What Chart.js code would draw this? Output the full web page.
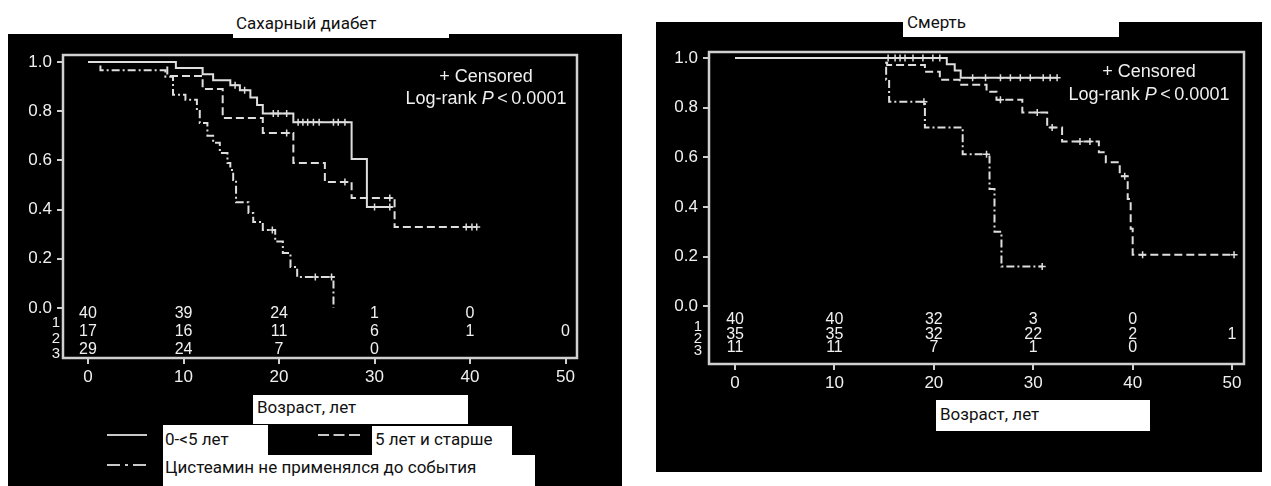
<!DOCTYPE html>
<html>
<head>
<meta charset="utf-8">
<script src="https://cdn.jsdelivr.net/npm/chart.js@4.4.1/dist/chart.umd.min.js"></script>
<style>
body { margin: 0; background: #fff; width: 1271px; height: 486px; overflow: hidden; position: relative; font-family: Roboto, "Noto Sans", sans-serif; }
.panel { position: absolute; background: #000; }
canvas { position: absolute; }
.box { position: absolute; background: #fff; color: #111; font-size: 17px; line-height: 20px; box-sizing: border-box; white-space: nowrap; }
svg { position: absolute; left: 0; top: 0; }
</style>
</head>
<body>
<div class="panel" style="left:8px;top:34px;width:614px;height:452px"></div>
<div class="panel" style="left:656px;top:22px;width:606px;height:450px"></div>
<canvas id="dm" width="614" height="452" style="left:8px;top:34px"></canvas>
<canvas id="death" width="606" height="450" style="left:656px;top:22px"></canvas>

<div class="box" style="left:233px;top:0;width:216px;height:38px;padding:13px 0 0 3px">Сахарный диабет</div>
<div class="box" style="left:903px;top:0;width:216px;height:37px;padding:12px 0 0 4px">Смерть</div>
<div class="box" style="left:253px;top:395px;width:215px;height:29px;padding:2px 0 0 4px">Возраст, лет</div>
<div class="box" style="left:936px;top:400px;width:214px;height:31px;padding:4px 0 0 4px">Возраст, лет</div>
<div class="box" style="left:163px;top:425px;width:105px;height:30px;padding:4px 0 0 2px">0-&lt;5 лет</div>
<div class="box" style="left:372px;top:426px;width:140px;height:29px;padding:3px 0 0 3px">5 лет и старше</div>
<div class="box" style="left:163px;top:455px;width:372px;height:31px;padding:2px 0 0 2px">Цистеамин не применялся до события</div>

<svg width="1271" height="486">
  <g stroke="#c8c8c8" stroke-width="2.2" fill="none">
    <line x1="107" y1="435" x2="147" y2="435"/>
    <line x1="318" y1="435" x2="361" y2="435" stroke-dasharray="11,4.5"/>
    <line x1="107" y1="465" x2="147" y2="465" stroke-dasharray="13,5,3,5"/>
  </g>
</svg>

<script>
// ages (years) and survival values
const xTicks = [0, 10, 20, 30, 40, 50];
const yTicks = [0, 0.2, 0.4, 0.6, 0.8, 1.0];
const riskTimes = [0, 10, 20, 30, 40, 50];

// Сахарный диабет
const dmYoungT = [0, 9.2, 12.0, 13.1, 14.9, 15.9, 17.0, 17.7, 18.3, 21.5, 27.6, 29.2, 31.9];
const dmYoungS = [1.0, 0.975, 0.95, 0.925, 0.905, 0.885, 0.855, 0.825, 0.79, 0.755, 0.605, 0.41, 0.41];
const dmYoungCensT = [15.4, 16.4, 19.4, 19.9, 20.8, 22.0, 22.5, 23.0, 23.6, 24.2, 25.7, 26.2, 26.9, 30.0, 31.6];
const dmYoungCensS = [0.905, 0.885, 0.79, 0.79, 0.79, 0.755, 0.755, 0.755, 0.755, 0.755, 0.755, 0.755, 0.755, 0.41, 0.41];

const dmOlderT = [0, 8.3, 12.0, 14.1, 18.3, 21.5, 24.8, 27.6, 32.1, 40.7];
const dmOlderS = [1.0, 0.943, 0.89, 0.772, 0.711, 0.589, 0.512, 0.447, 0.329, 0.329];
const dmOlderCensT = [20.8, 26.9, 31.6, 39.6, 40.2, 40.7];
const dmOlderCensS = [0.711, 0.512, 0.447, 0.329, 0.329, 0.329];

const dmNoneT = [0, 1.3, 8.1, 8.9, 10.2, 11.4, 11.7, 12.5, 13.1, 13.8, 14.6, 14.9, 15.2, 15.5, 16.8, 17.3, 18.3, 19.6, 20.4, 21.2, 21.9, 25.7];
const dmNoneS = [1.0, 0.966, 0.94, 0.866, 0.846, 0.80, 0.752, 0.70, 0.671, 0.63, 0.589, 0.561, 0.52, 0.43, 0.386, 0.35, 0.317, 0.27, 0.224, 0.167, 0.126, 0.0];
const dmNoneCensT = [19.3, 23.8, 25.5];
const dmNoneCensS = [0.317, 0.126, 0.126];

const dmRisk1 = [40, 39, 24, 1, 0];
const dmRisk2 = [17, 16, 11, 6, 1, 0];
const dmRisk3 = [29, 24, 7, 0];

// Смерть
const deathYoungT = [0, 21.3, 22.1, 22.7, 32.4];
const deathYoungS = [1.0, 0.975, 0.95, 0.92, 0.92];
const deathYoungCensT = [15.4, 16.1, 16.6, 17.1, 17.9, 18.9, 19.9, 20.6, 23.9, 25.2, 26.7, 27.7, 28.7, 29.7, 31.0, 31.7, 32.4];
const deathYoungCensS = [1, 1, 1, 1, 1, 1, 1, 1, 0.92, 0.92, 0.92, 0.92, 0.92, 0.92, 0.92, 0.92, 0.92];

const deathOlderT = [0, 15.3, 19.1, 20.6, 22.6, 25.3, 26.3, 28.9, 31.4, 32.9, 36.6, 37.3, 38.7, 39.5, 39.8, 40.0, 50.2];
const deathOlderS = [1.0, 0.972, 0.944, 0.912, 0.892, 0.864, 0.832, 0.78, 0.72, 0.664, 0.62, 0.58, 0.524, 0.432, 0.312, 0.208, 0.208];
const deathOlderCensT = [26.7, 30.4, 31.9, 34.7, 35.7, 39.2, 41.0, 50.2];
const deathOlderCensS = [0.832, 0.78, 0.72, 0.664, 0.664, 0.524, 0.208, 0.208];

const deathNoneT = [0, 15.2, 15.5, 19.1, 22.9, 25.6, 26.1, 26.8, 30.9];
const deathNoneS = [1.0, 0.912, 0.824, 0.72, 0.612, 0.472, 0.30, 0.16, 0.16];
const deathNoneCensT = [19.0, 25.3, 30.9];
const deathNoneCensS = [0.824, 0.612, 0.16];

const deathRisk1 = [40, 40, 32, 3, 0];
const deathRisk2 = [35, 35, 32, 22, 2, 1];
const deathRisk3 = [11, 11, 7, 1, 0];

const LINE = '#dedede';
const FONT = '"Liberation Sans", Arial, sans-serif';

function pts(t, s) {
    return t.map((v, i) => ({ x: v, y: s[i] }));
}

function curve(t, s, dash) {
    return { data: pts(t, s), stepped: true, borderColor: LINE, borderWidth: 2, borderDash: dash, pointRadius: 0, fill: false };
}

function marks(t, s) {
    return { data: pts(t, s), showLine: false, pointStyle: 'cross', pointRadius: 3.5, borderColor: LINE, borderWidth: 1.5, backgroundColor: LINE };
}

const extras = {
    id: 'kmExtras',
    afterDraw(chart, args, o) {
        const ctx = chart.ctx, a = chart.chartArea;
        const x = chart.scales.x, y = chart.scales.y;
        ctx.save();
        // frame
        ctx.strokeStyle = '#d0d0d0';
        ctx.lineWidth = 2.5;
        ctx.strokeRect(a.left, a.top, a.right - a.left, a.bottom - a.top);

        // numbers at risk
        const y0 = y.getPixelForValue(0);
        ctx.fillStyle = '#f0f0f0';
        ctx.textAlign = 'center';
        ctx.textBaseline = 'middle';
        ctx.font = '16px ' + FONT;
        o.risk.forEach((row, r) => {
            row.forEach((n, i) => ctx.fillText(String(n), x.getPixelForValue(riskTimes[i]), y0 + o.riskDy[r]));
        });
        ctx.font = '15px ' + FONT;
        ['1', '2', '3'].forEach((lab, r) => ctx.fillText(lab, a.left + o.labDx, y0 + o.labDy[r]));

        // annotation
        const cx = a.right - o.noteDx;
        ctx.font = '18px ' + FONT;
        ctx.fillText('+ Censored', cx, a.top + o.noteDy[0]);
        const parts = [['Log-rank ', '18px '], ['P', 'italic 18px '], ['\u2009<\u20090.0001', '18px ']];
        let w = 0;
        parts.forEach(p => { ctx.font = p[1] + FONT; w += ctx.measureText(p[0]).width; });
        let px = cx - w / 2;
        ctx.textAlign = 'left';
        parts.forEach(p => {
            ctx.font = p[1] + FONT;
            ctx.fillText(p[0], px, a.top + o.noteDy[1]);
            px += ctx.measureText(p[0]).width;
        });
        ctx.restore();
    }
};

function axis(extra) {
    return Object.assign({
        type: 'linear',
        grid: { drawOnChartArea: false, drawTicks: true, tickLength: 6, color: '#cfcfcf', lineWidth: 2 },
        border: { display: false },
    }, extra);
}

function kmChart(id, series, o) {
    return new Chart(document.getElementById(id), {
        type: 'line',
        data: {
            datasets: [
                curve(series[0], series[1], []),
                curve(series[4], series[5], [8, 4]),
                curve(series[8], series[9], [8, 3, 2, 3]),
                marks(series[2], series[3]),
                marks(series[6], series[7]),
                marks(series[10], series[11])
            ]
        },
        options: {
            responsive: false,
            animation: false,
            devicePixelRatio: 1,
            layout: { padding: o.pad },
            plugins: { legend: { display: false }, tooltip: { enabled: false }, kmExtras: o },
            scales: {
                x: axis({
                    min: o.xMin, max: o.xMax,
                    afterBuildTicks: s => { s.ticks = xTicks.map(v => ({ value: v })); },
                    afterFit: s => { s.height = 30; },
                    ticks: { color: '#f0f0f0', font: { family: FONT, size: 17 }, padding: 3, maxRotation: 0, autoSkip: false }
                }),
                y: axis({
                    min: o.yMin, max: o.yMax,
                    afterBuildTicks: s => { s.ticks = yTicks.map(v => ({ value: v })); },
                    afterFit: s => { s.width = o.yWidth; },
                    ticks: { color: '#f0f0f0', font: { family: FONT, size: 17 }, padding: 5, autoSkip: false, callback: v => v.toFixed(1) }
                })
            }
        },
        plugins: [extras]
    });
}

kmChart('dm', [dmYoungT, dmYoungS, dmYoungCensT, dmYoungCensS, dmOlderT, dmOlderS, dmOlderCensT, dmOlderCensS, dmNoneT, dmNoneS, dmNoneCensT, dmNoneCensS], {
    pad: { left: 0, top: 21, right: 45, bottom: 98 },
    yWidth: 55,
    xMin: -2.62, xMax: 51.2, yMin: -0.203, yMax: 1.028,
    risk: [dmRisk1, dmRisk2, dmRisk3],
    riskDy: [6, 24, 42], labDx: -7, labDy: [15, 31, 46],
    noteDx: 91, noteDy: [22, 44]
});

kmChart('death', [deathYoungT, deathYoungS, deathYoungCensT, deathYoungCensS, deathOlderT, deathOlderS, deathOlderCensT, deathOlderCensS, deathNoneT, deathNoneS, deathNoneCensT, deathNoneCensS], {
    pad: { left: 0, top: 30, right: 18, bottom: 78 },
    yWidth: 53,
    xMin: -2.62, xMax: 51.2, yMin: -0.232, yMax: 1.024,
    risk: [deathRisk1, deathRisk2, deathRisk3],
    riskDy: [13, 28, 41], labDx: -11, labDy: [20, 32, 44],
    noteDx: 95, noteDy: [20, 43]
});
</script>
</body>
</html>
